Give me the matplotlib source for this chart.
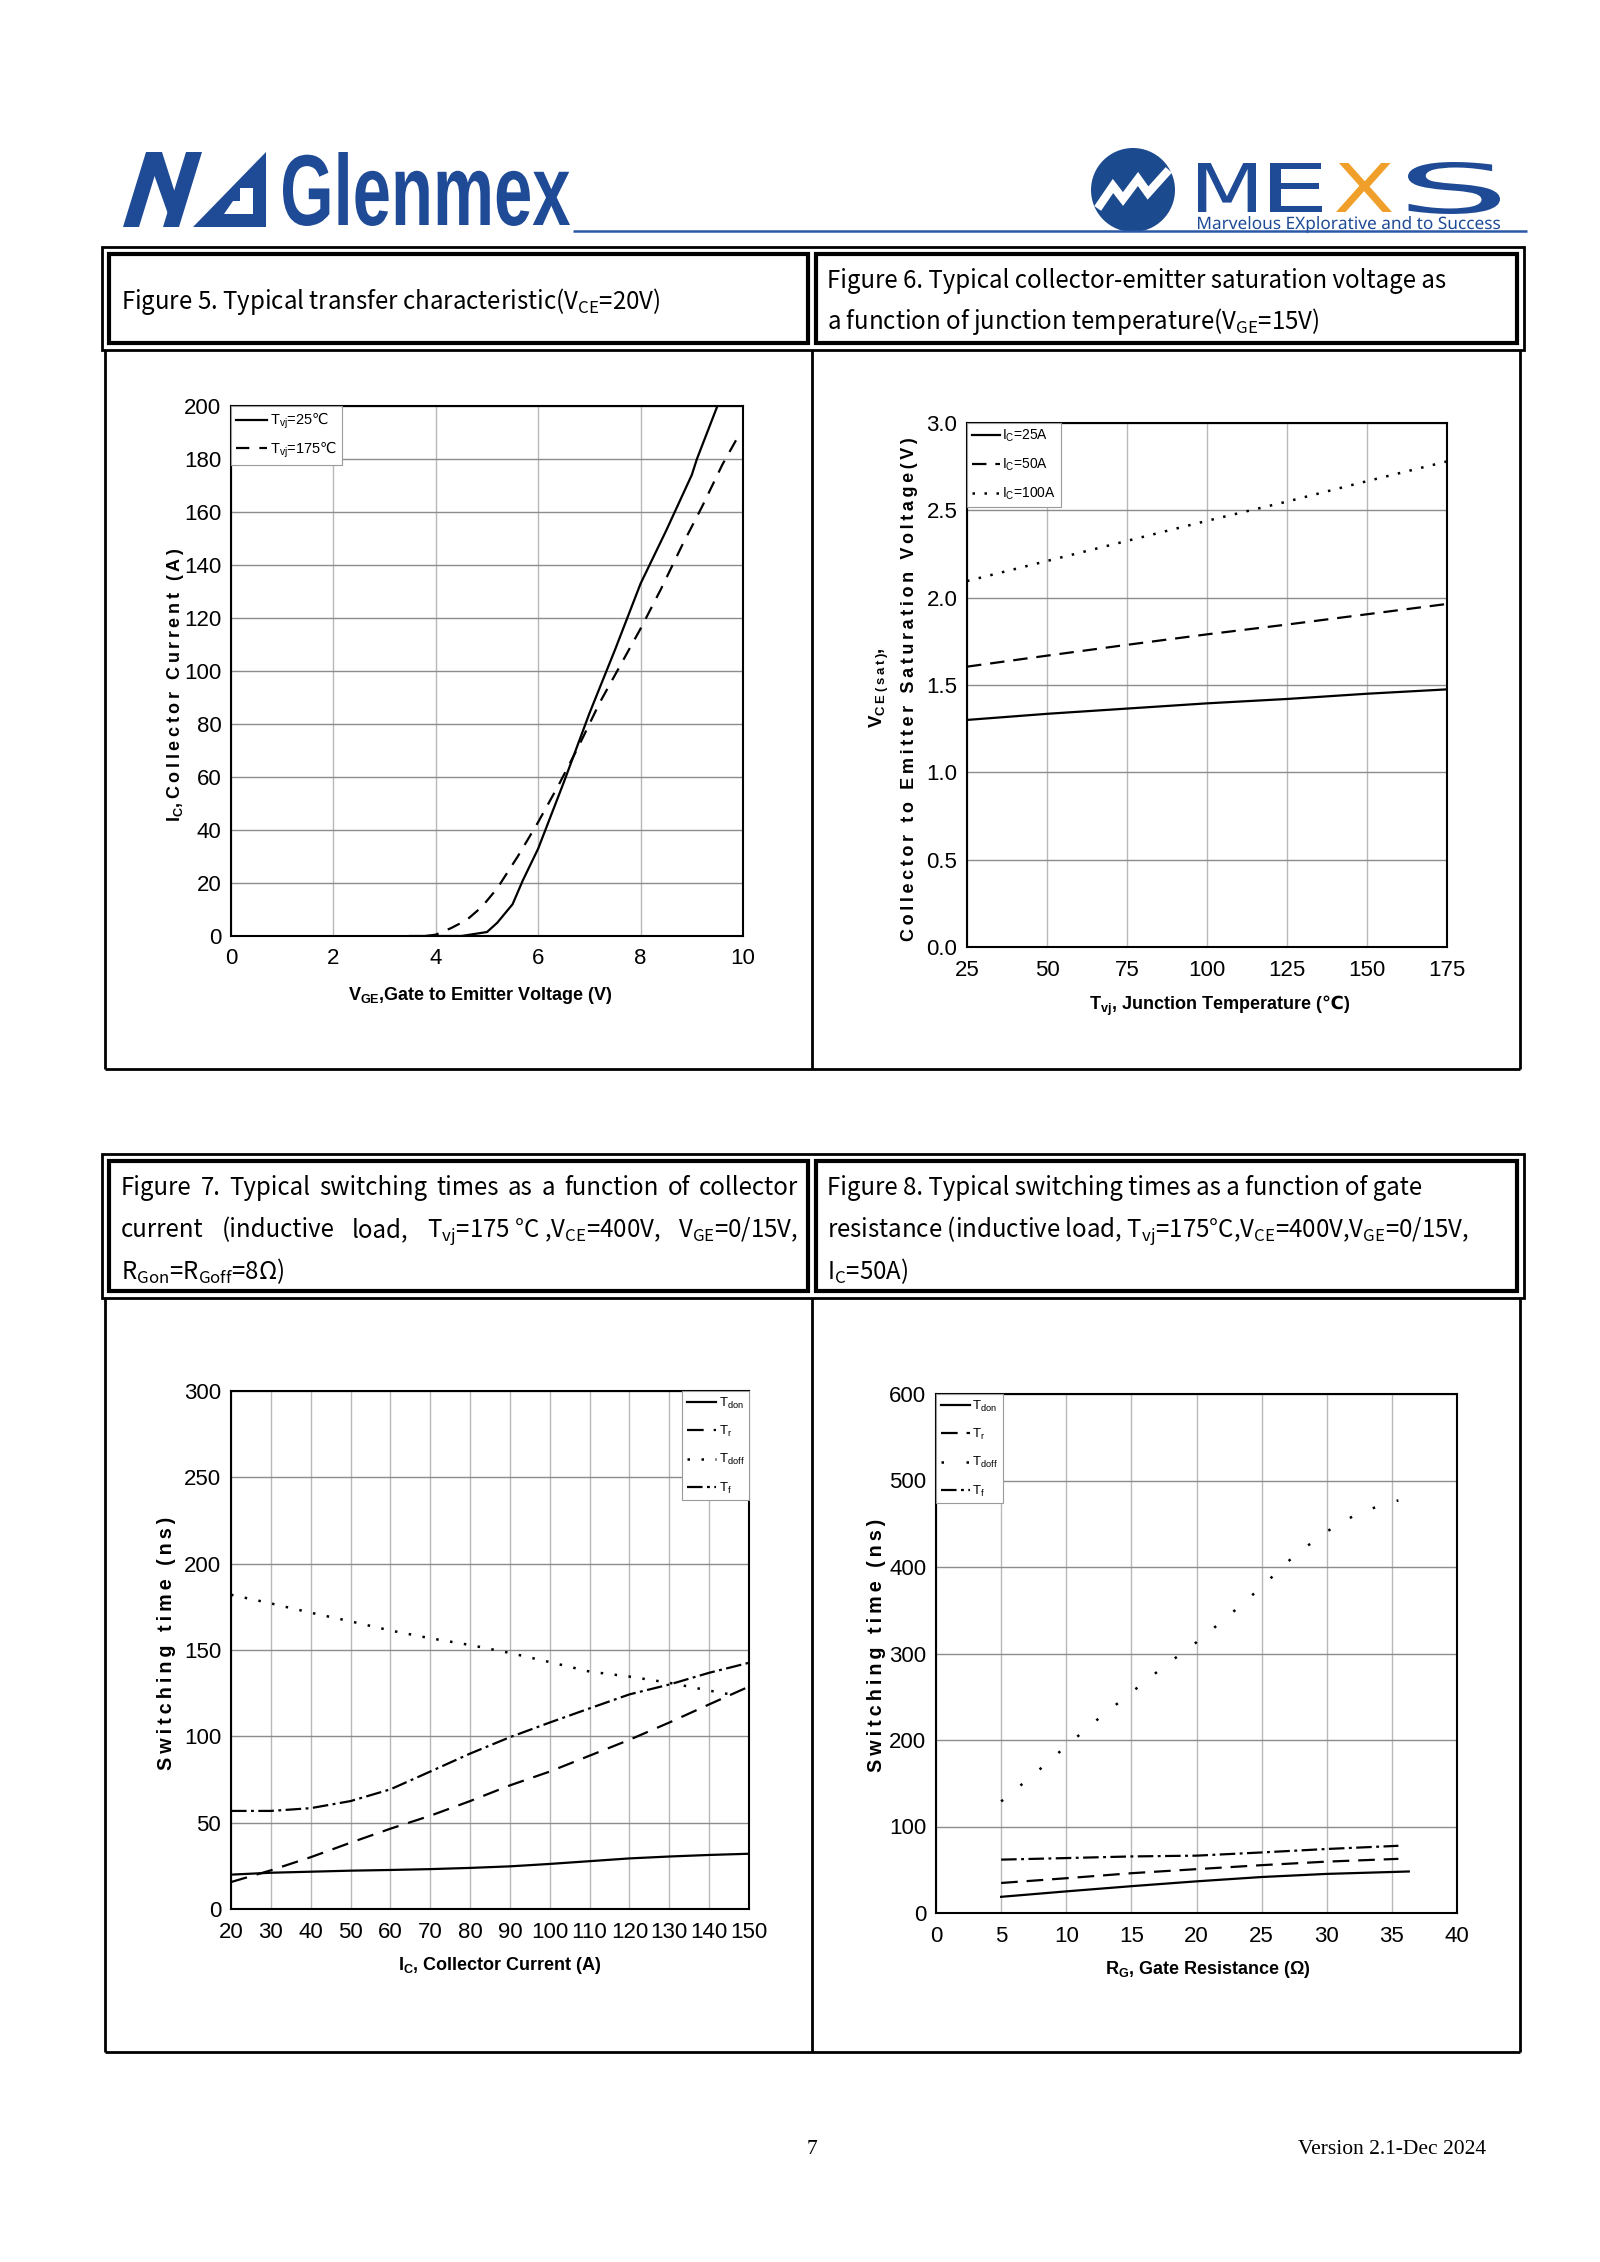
import numpy as np
import matplotlib
matplotlib.use('Agg')
import matplotlib.pyplot as plt
from matplotlib import font_manager as fm
from matplotlib.patches import Rectangle, Polygon, Circle, PathPatch
from matplotlib.lines import Line2D
from matplotlib.textpath import TextPath
from matplotlib.transforms import Affine2D
from matplotlib.ft2font import FT2Font

W, H = 1600, 2262

# ---------------- data ----------------
# Figure 5: transfer characteristic, VCE=20V
vge_25 = [3.5, 4.0, 4.5, 5.0, 5.2, 5.5, 5.7, 6.0, 6.5, 7.0, 7.5, 8.0, 8.5, 9.0, 9.1, 9.5]
ic_25 = [0, 0, 0, 1.5, 5, 12, 21, 33, 58, 84, 108, 133, 153, 174, 180, 200]
vge_175 = [3.8, 4.0, 4.3, 4.6, 4.9, 5.2, 5.6, 6.0, 6.4, 6.8, 7.2, 7.6, 8.0, 8.4, 8.8, 9.2, 9.6, 9.92]
ic_175 = [0, 0.5, 3, 6, 11, 18, 30, 43, 57, 72, 88, 102, 116, 131, 147, 162, 178, 189]

# Figure 6: VCE(sat) vs junction temperature
tvj = [25, 50, 75, 100, 125, 150, 175]
vce_25a = [1.30, 1.335, 1.365, 1.395, 1.42, 1.45, 1.475]
vce_50a = [1.605, 1.668, 1.73, 1.79, 1.846, 1.905, 1.964]
vce_100a = [2.095, 2.21, 2.325, 2.44, 2.55, 2.667, 2.78]

# Figure 7: switching times vs collector current
ic_sw = [20, 30, 40, 50, 60, 70, 80, 90, 100, 110, 120, 130, 140, 150]
tdon_ic = [19.9, 21, 21.6, 22.2, 22.6, 23.1, 23.8, 24.7, 26.1, 27.7, 29.3, 30.4, 31.3, 32]
tr_ic = [15.6, 22.4, 30, 38.4, 46.5, 54, 62.5, 71.6, 79.6, 88.8, 98, 108, 118.5, 128.8]
ic_doff = [20, 30, 40, 50, 60, 70, 80, 90, 100, 110, 120, 130, 140, 146]
tdoff_ic = [182, 177, 171.6, 166.6, 161.3, 156.8, 152.9, 148.3, 143, 137.5, 134.6, 131, 126.5, 124]
tf_ic = [56.8, 56.8, 58.4, 62.5, 69.3, 79.6, 90, 99.5, 108, 116.2, 124.3, 130, 136.8, 142.6]

# Figure 8: switching times vs gate resistance
rg_don = [5, 10, 15, 20, 25, 30, 36.3]
tdon_rg = [18.7, 25, 31, 36.6, 41.6, 45.2, 48]
rg_sw = [5, 10, 15, 20, 25, 30, 35.5]
tr_rg = [34.7, 40.2, 46, 50.7, 55.3, 59.4, 62.6]
tf_rg = [61.7, 63.5, 65.4, 66.3, 70, 74, 77.7]
rg_doff = [5, 7.5, 10, 12.5, 15, 17.5, 20, 22.5, 25, 27.5, 30, 32.5, 35, 35.5]
tdoff_rg = [129, 160, 193, 225, 255, 285, 313, 344, 377, 413, 441, 463, 475, 477]

# ---------------- fonts ----------------
names = {f.name for f in fm.fontManager.ttflist}
NARROW = 'Liberation Sans Narrow' if 'Liberation Sans Narrow' in names else 'Liberation Sans'
SPACED = 'Liberation Sans'
try:
    cm = FT2Font(fm.findfont(fm.FontProperties(family='Liberation Sans', weight='bold'))).get_charmap()
    if 0x2009 not in cm:
        SPACED = 'DejaVu Sans'
except Exception:
    SPACED = 'DejaVu Sans'
HEAD = ['Noto Sans CJK SC', 'DejaVu Sans']

plt.rcParams['font.family'] = [NARROW, 'DejaVu Sans']
plt.rcParams['mathtext.default'] = 'regular'
plt.rcParams['mathtext.fontset'] = 'dejavusans'

fig = plt.figure(figsize=(W / 100, H / 100), dpi=100)
fig.patch.set_facecolor('white')
R = fig.canvas.get_renderer()
PIX = Affine2D()  # display pixels, y up


def fx(x):
    return x / W


def fy(y):
    return 1 - y / H


def add_ax(x0, y0, x1, y1):
    return fig.add_axes([fx(x0), fy(y1), (x1 - x0) / W, (y1 - y0) / H])


def box(x0, y0, x1, y1, lw):
    fig.add_artist(Rectangle((fx(x0), fy(y1)), (x1 - x0) / W, (y1 - y0) / H,
                             transform=fig.transFigure, fill=False, lw=lw,
                             ec='black', joinstyle='miter'))


def line(xs, ys, lw, color='black'):
    fig.add_artist(Line2D([fx(v) for v in xs], [fy(v) for v in ys],
                          transform=fig.transFigure, lw=lw, color=color,
                          solid_capstyle='butt'))


def spaced(s):
    return '\u2009'.join(s)


def path_text(s, x0, x1, ytop, ybase, color, prop):
    tp = TextPath((0, 0), s, size=100, prop=prop)
    bb = tp.get_extents()
    sx = (x1 - x0) / bb.width
    sy = (ybase - ytop) / bb.ymax
    tr = Affine2D().translate(-bb.xmin, 0).scale(sx, sy).translate(x0, H - ybase)
    fig.add_artist(PathPatch(tp, transform=tr, fc=color, ec='none'))


# ---------------- header logos ----------------
BLUE = '#1f4b96'
# Glenmex mark
for pts in [[(123, 227), (139, 227), (162, 152), (146, 152)],
            [(146, 152), (162, 152), (176, 196), (168, 214)],
            [(163, 227), (179, 227), (202, 152), (186, 152)],
            [(193, 227), (266, 227), (266, 152)]]:
    fig.add_artist(Polygon([(fx(a), fy(b)) for a, b in pts], closed=True,
                           transform=fig.transFigure, fc=BLUE, ec='none'))
fig.add_artist(Polygon([(fx(a), fy(b)) for a, b in
                        [(224, 214), (253, 214), (253, 188), (240, 188), (240, 201), (233, 201)]],
                       closed=True, transform=fig.transFigure, fc='white', ec='none'))
path_text('Glenmex', 283, 570, 152, 225, BLUE, fm.FontProperties(family=NARROW, weight='bold'))

line([573, 1527], [231, 231], 1.8, '#2b58a6')
fig.add_artist(Circle((1133, H - 190), 42, transform=PIX, fc='#1c4a8e', ec='none'))
zz = [(1100, 205), (1113, 186), (1123, 199), (1138, 179), (1148, 193), (1166, 173)]
fig.add_artist(Line2D([fx(a) for a, b in zz], [fy(b) for a, b in zz], transform=fig.transFigure,
                      lw=6, color='white', solid_joinstyle='miter'))
mprop = fm.FontProperties(family='DejaVu Sans')
path_text('M', 1198, 1256, 163, 212, BLUE, mprop)
path_text('E', 1270, 1322, 163, 212, BLUE, mprop)
path_text('X', 1336, 1392, 163, 212, '#f0a02a', mprop)
path_text('S', 1408, 1500, 162, 213, BLUE, mprop)
path_text('Marvelous EXplorative and to Success', 1198, 1500, 216, 229, BLUE,
          fm.FontProperties(family='Noto Sans', weight='bold'))

# ---------------- table frames ----------------
for top, hb, bot in [(247, 350, 1069), (1154, 1298, 2052)]:
    box(102, top, 1524, hb, 2.0)
    box(109, top + 7, 808, hb - 7, 3.0)
    box(816, top + 7, 1517, hb - 7, 3.0)
    for xv in (105, 812, 1520):
        line([xv, xv], [hb, bot], 2.0)
    line([105, 1520], [bot, bot], 2.0)

HS = 17.3


def htext(x, y, s):
    return fig.text(fx(x), fy(y), s, family=HEAD, fontsize=HS, va='baseline', ha='left')


def justify(text, x0, x1, y):
    # double spaces mark the stretchable gaps; otherwise every space stretches
    words = text.split('  ') if '  ' in text else text.split(' ')
    ts = [htext(x0, y, w) for w in words]
    ws = [t.get_window_extent(R).width for t in ts]
    gap = (x1 - x0 - sum(ws)) / (len(ws) - 1)
    x = x0
    for t, w in zip(ts, ws):
        t.set_x(fx(x))
        x += w + gap


htext(121, 309, r'Figure 5. Typical transfer characteristic(V$_{CE}$=20V)')
htext(827, 288, 'Figure 6. Typical collector-emitter saturation voltage as')
htext(827, 329, r'a function of junction temperature(V$_{GE}$=15V)')
justify('Figure 7. Typical switching times as a function of collector', 121, 798, 1195)
justify(r'current  (inductive  load,  T$_{vj}$=175 °C ,V$_{CE}$=400V,  V$_{GE}$=0/15V,', 121, 798, 1237)
htext(121, 1279, r'R$_{Gon}$=R$_{Goff}$=8Ω)')
htext(827, 1195, 'Figure 8. Typical switching times as a function of gate')
htext(827, 1237, r'resistance (inductive load, T$_{vj}$=175°C,V$_{CE}$=400V,V$_{GE}$=0/15V,')
htext(827, 1279, r'I$_{C}$=50A)')


# ---------------- chart helpers ----------------
def style(ax, xlim, ylim, xt, yt):
    ax.set_xlim(xlim)
    ax.set_ylim(ylim)
    ax.set_xticks(xt)
    ax.set_yticks(yt)
    ax.xaxis.grid(True, color='#b8b8b8', lw=1.0)
    ax.yaxis.grid(True, color='#8c8c8c', lw=1.0)
    ax.set_axisbelow(True)
    for s in ax.spines.values():
        s.set_linewidth(1.5)
    ax.tick_params(axis='x', length=0, labelsize=16, pad=9)
    ax.tick_params(axis='y', length=0, labelsize=16, pad=7)


def legend(ax, loc, anchor, fs, hl, ls):
    leg = ax.legend(loc=loc, bbox_to_anchor=anchor, borderaxespad=0, fontsize=fs,
                    handlelength=hl, handletextpad=0.2, borderpad=0.35,
                    labelspacing=ls, fancybox=False, framealpha=1)
    leg.get_frame().set_edgecolor('#9a9a9a')
    leg.get_frame().set_linewidth(0.8)
    return leg


def xlab(x, y, s):
    fig.text(fx(x), fy(y), s, fontsize=13, weight='bold', ha='center', va='center')


def ylab(x, y, s, fs):
    fig.text(fx(x), fy(y), s, fontsize=fs, weight='bold', family=[SPACED, 'DejaVu Sans'],
             rotation=90, ha='center', va='center')


LW = 1.6

# Figure 5
ax5 = add_ax(231, 406, 743, 936)
style(ax5, (0, 10), (0, 200), range(0, 11, 2), range(0, 201, 20))
ax5.plot(vge_25, ic_25, color='black', lw=LW, label=r'T$_{vj}$=25$\mathrm{℃}$')
ax5.plot(vge_175, ic_175, color='black', lw=LW, ls=(0, (6, 4.5)), label=r'T$_{vj}$=175$\mathrm{℃}$')
legend(ax5, 'upper left', (0, 1), 10.5, 2.1, 0.55)
xlab(480, 995, r'V$_{GE}$,Gate to Emitter Voltage (V)')
ylab(175, 685, 'I$_{C}$' + spaced(',Collector Current (A)'), 13)

# Figure 6
ax6 = add_ax(967, 423, 1447, 947)
style(ax6, (25, 175), (0, 3.0), range(25, 176, 25), np.arange(0, 3.01, 0.5))
ax6.set_yticklabels([f'{v:.1f}' for v in np.arange(0, 3.01, 0.5)])
ax6.plot(tvj, vce_25a, color='black', lw=LW, label=r'I$_{C}$=25A')
ax6.plot(tvj, vce_50a, color='black', lw=LW, ls=(0, (6.5, 4)), label=r'I$_{C}$=50A')
ax6.plot(tvj, vce_100a, color='black', lw=1.8, ls=(0, (1, 3.8)), label=r'I$_{C}$=100A')
legend(ax6, 'upper left', (0, 1), 10, 2.0, 0.9)
xlab(1220, 1006, r'T$_{vj}$, Junction Temperature ($\mathbf{℃}$)')
ylab(879, 688, 'V$_{' + spaced('CE(sat)') + '}$,', 13.5)
ylab(909, 689, spaced('Collector to Emitter Saturation Voltage(V)'), 13)

# Figure 7
ax7 = add_ax(231, 1391, 749, 1909)
style(ax7, (20, 150), (0, 300), range(20, 151, 10), range(0, 301, 50))
ax7.plot(ic_sw, tdon_ic, color='black', lw=LW, label=r'T$_{don}$')
ax7.plot(ic_sw, tr_ic, color='black', lw=LW, ls=(0, (7.5, 4.5)), label=r'T$_{r}$')
ax7.plot(ic_doff, tdoff_ic, color='black', lw=1.8, ls=(0, (1, 4.6)), label=r'T$_{doff}$')
ax7.plot(ic_sw, tf_ic, color='black', lw=LW, ls=(0, (7, 2, 1.3, 2)), label=r'T$_{f}$')
legend(ax7, 'upper right', (1, 1), 9.5, 2.2, 1.0)
xlab(500, 1965, r'I$_{C}$, Collector Current (A)')
ylab(166, 1643, spaced('Switching time (ns)'), 14.2)

# Figure 8
ax8 = add_ax(936, 1394, 1457, 1913)
style(ax8, (0, 40), (0, 600), range(0, 41, 5), range(0, 601, 100))
ax8.plot(rg_don, tdon_rg, color='black', lw=LW, label=r'T$_{don}$')
ax8.plot(rg_sw, tr_rg, color='black', lw=LW, ls=(0, (7.5, 4)), label=r'T$_{r}$')
ax8.plot(rg_doff, tdoff_rg, color='black', lw=1.8, ls=(0, (1, 9)), label=r'T$_{doff}$')
ax8.plot(rg_sw, tf_rg, color='black', lw=LW, ls=(0, (7, 2, 1.3, 2)), label=r'T$_{f}$')
legend(ax8, 'upper left', (0, 1), 9.5, 2.2, 1.0)
xlab(1208, 1969, r'R$_{G}$, Gate Resistance (Ω)')
ylab(876, 1645, spaced('Switching time (ns)'), 14.2)

# ---------------- footer ----------------
fig.text(fx(812), fy(2150), '7', family='Liberation Serif', fontsize=15.5, ha='center', va='center')
fig.text(fx(1486), fy(2150), 'Version 2.1-Dec 2024', family='Liberation Serif', fontsize=15.5,
         ha='right', va='center')

fig.savefig('out.png', dpi=100)
